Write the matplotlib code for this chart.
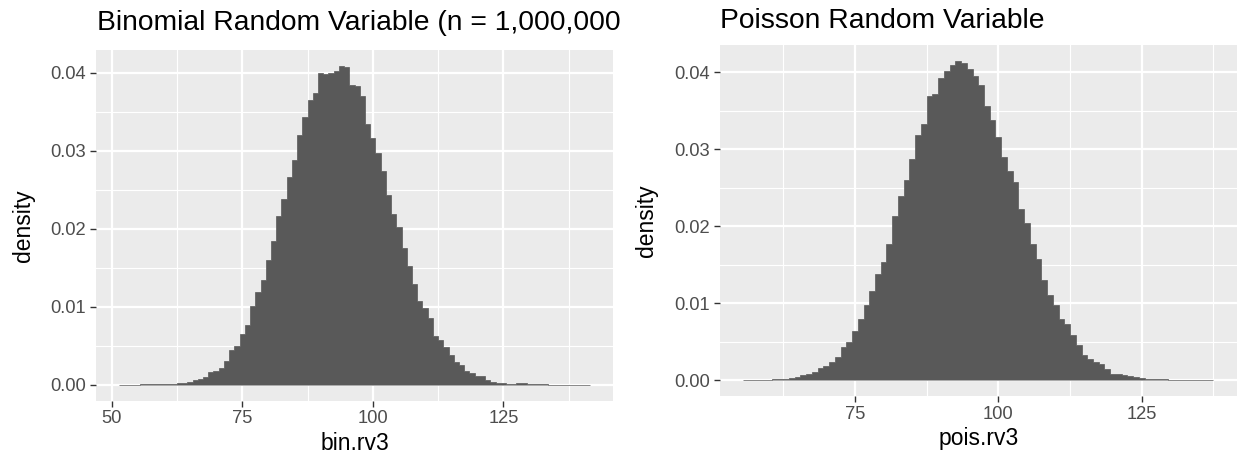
import matplotlib
matplotlib.use("Agg")
import matplotlib.pyplot as plt
import numpy as np

# histogram densities (bin width 1)
bin_first = 52
bin_density = [
    0.00002, 0.00002, 0.00003, 0.00003, 0.00004, 0.00005, 0.00006, 0.00008, 0.0001, 0.00012,
    0.00015, 0.0002, 0.00022,
    0.0003, 0.00056, 0.0007, 0.00094, 0.0017, 0.0018, 0.0021, 0.003, 0.0044, 0.005,
    0.0065, 0.0077, 0.0101, 0.0119, 0.0135, 0.016, 0.0185, 0.0216, 0.0238, 0.0267,
    0.0288, 0.0321, 0.0343, 0.0365, 0.0374, 0.04, 0.0399, 0.04, 0.0402, 0.0409,
    0.0408, 0.0384, 0.0383, 0.037, 0.0335, 0.0317, 0.0297, 0.0274, 0.0244, 0.0219,
    0.0202, 0.0176, 0.0152, 0.0129, 0.0108, 0.0099, 0.0086, 0.0063, 0.0057, 0.0049,
    0.0038, 0.0029, 0.0025, 0.0018, 0.0015, 0.0011, 0.0011, 0.00056, 0.0003, 0.00026,
    0.00026, 0.00013, 0.00013, 0.00017, 0.00017,
    0.00008, 0.00006, 0.00005, 0.00004, 0.00003, 0.00003, 0.00002, 0.00002, 0.00002,
    0.00001, 0.00001, 0.00001,
]

pois_first = 56
pois_density = [
    0.00002, 0.00003, 0.00004, 0.00005, 0.00006, 0.00008,
    0.0001, 0.00015, 0.00026, 0.00043, 0.0006, 0.00078, 0.0011, 0.0016, 0.0018, 0.0024,
    0.003, 0.0043, 0.005, 0.0064, 0.0079, 0.0097, 0.0116, 0.0138, 0.0153, 0.0177,
    0.0213, 0.024, 0.026, 0.0287, 0.0319, 0.0333, 0.0369, 0.0372, 0.0393, 0.0402,
    0.041, 0.0415, 0.0412, 0.0405, 0.0395, 0.0384, 0.0357, 0.0338, 0.0316, 0.029,
    0.0272, 0.0257, 0.0223, 0.0204, 0.0177, 0.0157, 0.013, 0.011, 0.0097, 0.008,
    0.0073, 0.0059, 0.0045, 0.0032, 0.0028, 0.0023, 0.0021, 0.0015, 0.0008, 0.00078,
    0.00065, 0.00052, 0.00035, 0.00026, 0.00017,
    0.00012, 0.0001, 0.00008, 0.00006, 0.00005, 0.00004, 0.00003, 0.00003, 0.00002,
    0.00002, 0.00001,
]

y_ticks = [0.0, 0.01, 0.02, 0.03, 0.04]
y_labels = ["0.00", "0.01", "0.02", "0.03", "0.04"]
bin_xticks = [50, 75, 100, 125]
pois_xticks = [75, 100, 125]

plt.rcParams['font.family'] = ['Liberation Sans', 'DejaVu Sans']

W, H = 1238, 461
fig = plt.figure(figsize=(W / 100, H / 100), dpi=100)


def px_axes(l, r, t, b):
    return fig.add_axes([l / W, 1 - b / H, (r - l) / W, (b - t) / H])


def gg_hist(ax, first, dens, xticks, xlabel):
    dens = np.asarray(dens)
    edges = np.arange(first, first + len(dens) + 1) - 0.5
    ax.set_facecolor('#EBEBEB')
    for s in ax.spines.values():
        s.set_visible(False)
    # one filled outline, so no seams between neighbouring bars
    ax.stairs(dens, edges, fill=True, facecolor='#595959', edgecolor='#595959',
              linewidth=0.5, baseline=0, zorder=3)
    lo, hi = edges[0], edges[-1]
    pad = (hi - lo) * 0.05
    ax.set_xlim(lo - pad, hi + pad)
    ymax = dens.max()
    ax.set_ylim(-ymax * 0.05, ymax * 1.05)
    ax.set_xticks(xticks)
    ax.set_xticklabels([str(v) for v in xticks])
    ax.set_yticks(y_ticks)
    ax.set_yticklabels(y_labels)
    xminor = [v for v in np.arange(12.5, 200, 25) if lo - pad < v < hi + pad]
    ax.set_xticks(xminor, minor=True)
    ax.set_yticks([0.005, 0.015, 0.025, 0.035], minor=True)
    ax.grid(True, which='major', color='white', linewidth=1.6, zorder=0)
    ax.grid(True, which='minor', color='white', linewidth=0.8, zorder=0)
    ax.set_axisbelow(True)
    ax.tick_params(which='major', length=4, width=1.0, color='#333333',
                   labelsize=13.2, labelcolor='#4D4D4D', pad=3)
    ax.tick_params(which='minor', length=0)
    ax.set_xlabel(xlabel, fontsize=16.5, labelpad=3)
    ax.set_ylabel('density', fontsize=16.5, labelpad=11.5)


ax1 = px_axes(96, 613, 50, 400.7)
gg_hist(ax1, bin_first, bin_density, bin_xticks, 'bin.rv3')

ax2 = px_axes(719.5, 1237, 45, 396)
gg_hist(ax2, pois_first, pois_density, pois_xticks, 'pois.rv3')

t1 = fig.text(97 / W, 1 - 29.5 / H, 'Binomial Random Variable (n = 1,000,000',
              fontsize=20.3, ha='left', va='baseline')
t1.set_clip_on(True)
t1.set_clip_box(matplotlib.transforms.TransformedBbox(
    matplotlib.transforms.Bbox([[0, 0], [620 / W, 1]]), fig.transFigure))
fig.text(720 / W, 1 - 28 / H, 'Poisson Random Variable',
         fontsize=20.3, ha='left', va='baseline')

fig.savefig('out.png', dpi=100)
